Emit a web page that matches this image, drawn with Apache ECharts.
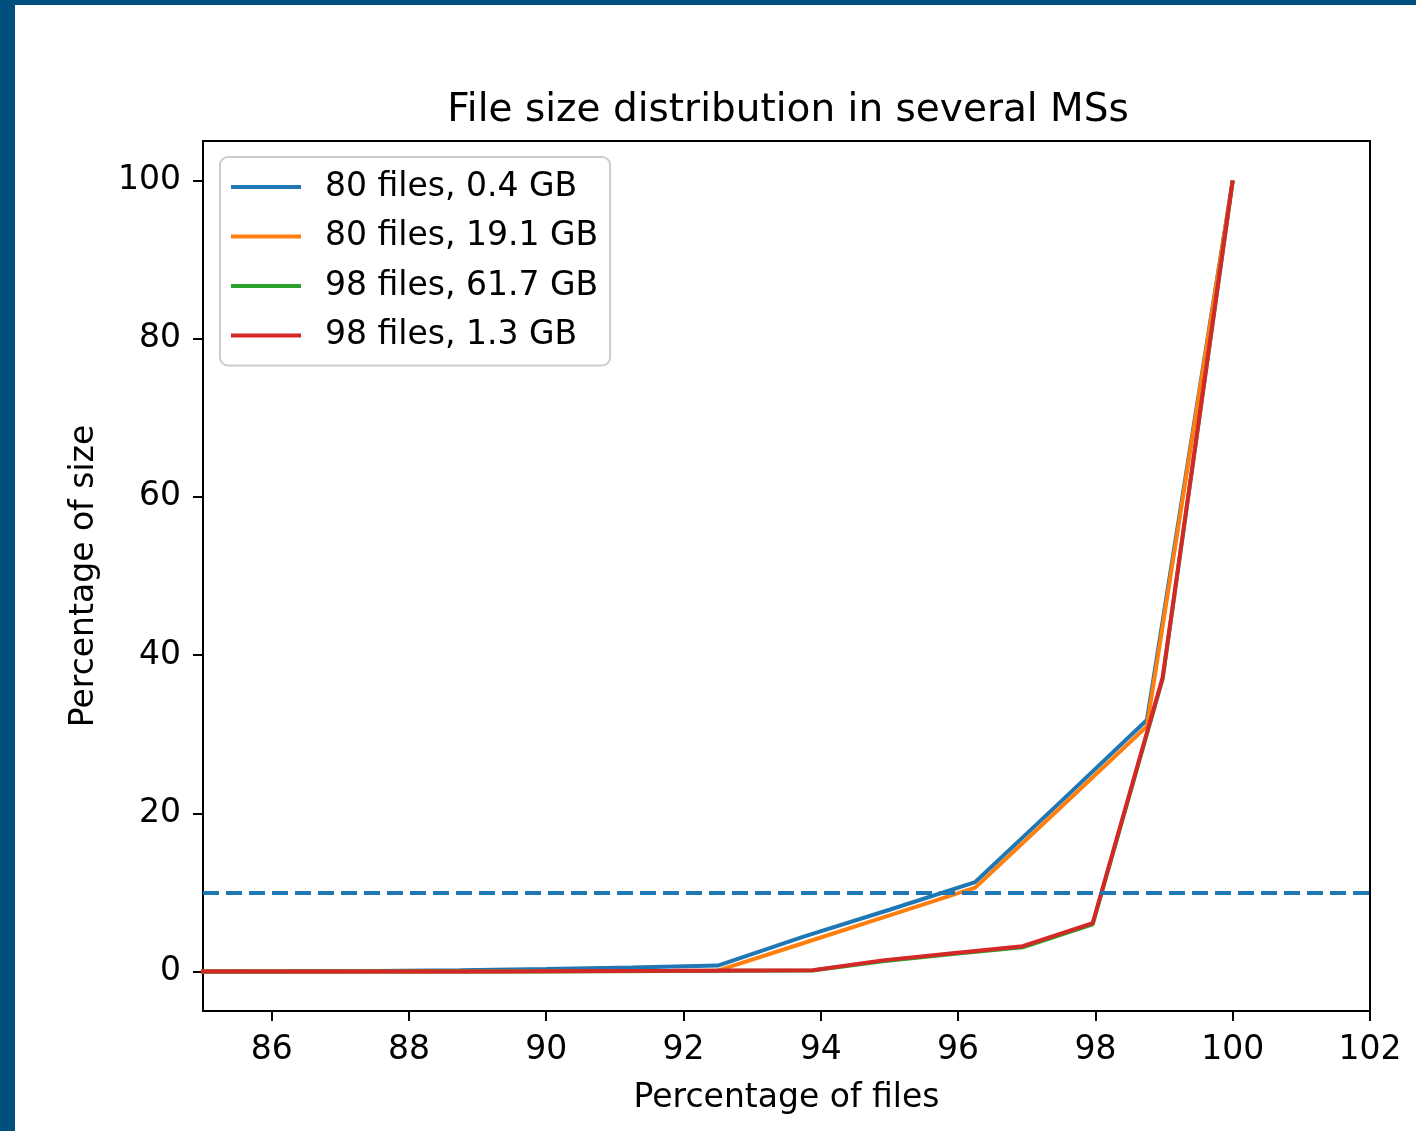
<!DOCTYPE html>
<html>
<head>
<meta charset="utf-8">
<script src="https://cdn.jsdelivr.net/npm/echarts@6/dist/echarts.min.js"></script>
<style>
  html, body { margin: 0; padding: 0; background: #00507f; }
  #chart { position: absolute; left: 15px; top: 5px; width: 1401px; height: 1126px; background: #ffffff; }
</style>
</head>
<body>
<div id="chart"></div>
<script>
// x positions (percentage of files) for the two file counts
const files80X = [83.75, 85, 86.25, 87.5, 88.75, 90, 91.25, 92.5, 93.75, 95, 96.25, 97.5, 98.75, 100]
const files98X = [83.67, 84.69, 85.71, 86.73, 87.76, 88.78, 89.8, 90.82, 91.84, 92.86, 93.88, 94.9, 95.92, 96.94, 97.96, 98.98, 100]

// percentage of size
const size80a = [0, 0, 0.02, 0.05, 0.15, 0.3, 0.5, 0.75, 4.4, 7.8, 11.3, 21.5, 31.8, 100]
const size80b = [0, 0, 0, 0, 0, 0.02, 0.05, 0.1, 3.6, 7.1, 10.6, 20.8, 31.0, 100]
const size98a = [0, 0, 0, 0, 0, 0, 0.01, 0.03, 0.06, 0.1, 0.12, 1.3, 2.2, 3.05, 5.95, 37.0, 100]
const size98b = [0, 0, 0, 0, 0, 0, 0.02, 0.05, 0.08, 0.12, 0.15, 1.4, 2.3, 3.2, 6.1, 37.2, 100]

const seriesNames = ['80 files, 0.4 GB', '80 files, 19.1 GB', '98 files, 61.7 GB', '98 files, 1.3 GB']
const seriesColors = ['#1f77b4', '#ff7f0e', '#2ca02c', '#d62728']
const thresholdY = 10

const xTicks = [86, 88, 90, 92, 94, 96, 98, 100, 102]
const yTicks = [0, 20, 40, 60, 80, 100]

const pairs = (xs, ys) => xs.map((x, i) => [x, ys[i]])
const seriesData = [
  pairs(files80X, size80a),
  pairs(files80X, size80b),
  pairs(files98X, size98a),
  pairs(files98X, size98b)
]

const font = 'DejaVu Sans'
const chart = echarts.init(document.getElementById('chart'))

chart.setOption({
  animation: false,
  textStyle: { fontFamily: font },
  title: {
    text: 'File size distribution in several MSs',
    left: 768,
    top: 81,
    textAlign: 'center',
    textStyle: { fontFamily: font, fontSize: 39, fontWeight: 'normal', color: '#000' }
  },
  legend: {
    data: seriesNames,
    orient: 'vertical',
    left: 205,
    top: 152,
    padding: [11, 12, 11, 11],
    itemWidth: 70,
    itemHeight: 4,
    itemGap: 11.5,
    icon: 'rect',
    backgroundColor: 'rgba(255,255,255,0.8)',
    borderColor: '#cccccc',
    borderWidth: 2,
    borderRadius: 8,
    textStyle: { fontFamily: font, fontSize: 33, color: '#000', padding: [0, 0, 0, 19], lineHeight: 38 }
  },
  grid: {
    left: 188,
    right: 46,
    top: 136,
    bottom: 120,
    show: true,
    borderColor: '#000',
    borderWidth: 2,
    backgroundColor: 'transparent'
  },
  xAxis: {
    type: 'value',
    min: 85,
    max: 102,
    name: 'Percentage of files',
    nameLocation: 'middle',
    nameGap: 71,
    nameTextStyle: { fontFamily: font, fontSize: 33, color: '#000' },
    axisLine: { onZero: false, lineStyle: { color: '#000', width: 2 } },
    axisTick: { show: true, length: 10, lineStyle: { color: '#000', width: 2 }, customValues: xTicks },
    axisLabel: { fontFamily: font, fontSize: 33, color: '#000', margin: 23, customValues: xTicks },
    splitLine: { show: false }
  },
  yAxis: {
    type: 'value',
    min: -5,
    max: 105,
    name: 'Percentage of size',
    nameLocation: 'middle',
    nameGap: 102,
    nameTextStyle: { fontFamily: font, fontSize: 33, color: '#000' },
    axisLine: { onZero: false, lineStyle: { color: '#000', width: 2 } },
    axisTick: { show: true, length: 10, lineStyle: { color: '#000', width: 2 }, customValues: yTicks },
    axisLabel: { fontFamily: font, fontSize: 33, color: '#000', margin: 22, customValues: yTicks },
    splitLine: { show: false }
  },
  series: [
    {
      name: 'threshold',
      type: 'line',
      data: [],
      silent: true,
      markLine: {
        silent: true,
        symbol: 'none',
        label: { show: false },
        lineStyle: { color: '#1f77b4', width: 4, type: [16, 7] },
        data: [{ yAxis: thresholdY }]
      }
    },
    ...seriesNames.map((name, i) => ({
      name: name,
      type: 'line',
      data: seriesData[i],
      showSymbol: false,
      symbol: 'none',
      clip: true,
      color: seriesColors[i],
      lineStyle: { color: seriesColors[i], width: 4 }
    }))
  ]
})
</script>
</body>
</html>
